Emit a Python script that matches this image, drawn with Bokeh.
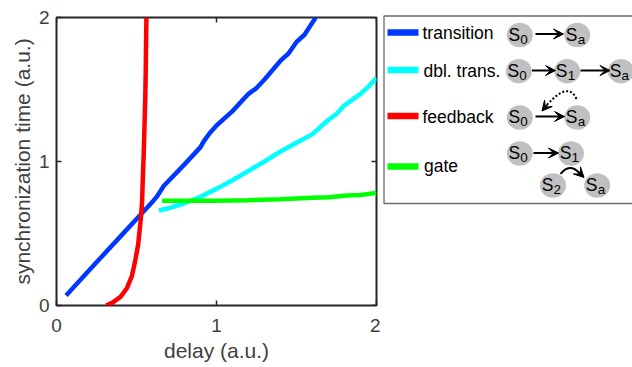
import math
from bokeh.plotting import figure
from bokeh.layouts import row
from bokeh.models import Range1d, FixedTicker, Arrow, VeeHead
from bokeh.core.properties import value
from bokeh.embed import file_html
from bokeh.resources import INLINE

# ---- data ----
blue_x = [0.06, 0.2, 0.4, 0.6, 0.63, 0.67, 0.8, 0.9, 0.92, 0.96, 1.0, 1.1, 1.2, 1.25, 1.3, 1.4, 1.45, 1.5, 1.55, 1.62]
blue_y = [0.07, 0.24, 0.48, 0.72, 0.76, 0.83, 0.98, 1.10, 1.14, 1.20, 1.25, 1.35, 1.47, 1.51, 1.57, 1.70, 1.75, 1.83, 1.88, 2.0]

cyan_x = [0.64, 0.7, 0.8, 0.9, 1.0, 1.1, 1.2, 1.3, 1.4, 1.5, 1.6, 1.7, 1.75, 1.8, 1.85, 1.9, 1.95, 2.0]
cyan_y = [0.66, 0.675, 0.71, 0.755, 0.81, 0.87, 0.935, 1.0, 1.07, 1.13, 1.19, 1.29, 1.33, 1.39, 1.43, 1.47, 1.52, 1.58]

red_x = [0.31, 0.35, 0.40, 0.44, 0.47, 0.49, 0.51, 0.525, 0.535, 0.54, 0.545, 0.55, 0.555, 0.558, 0.56, 0.562]
red_y = [0.0, 0.02, 0.06, 0.12, 0.20, 0.30, 0.42, 0.58, 0.72, 0.90, 1.05, 1.25, 1.45, 1.65, 1.85, 2.0]

green_x = [0.66, 0.8, 1.0, 1.2, 1.4, 1.5, 1.6, 1.7, 1.8, 1.85, 1.9, 2.0]
green_y = [0.727, 0.727, 0.728, 0.731, 0.738, 0.743, 0.748, 0.752, 0.762, 0.766, 0.768, 0.782]

x_ticks = [0, 1, 2]
y_ticks = [0, 1, 2]

legend_labels = ["transition", "dbl. trans.", "feedback", "gate"]
legend_colors = ["#0038ff", "#00ffff", "#ff0000", "#00ff00"]

FONT = "Liberation Sans"
AXC = "#404040"
FRAME = "#262626"

# ---- main plot ----
p = figure(width=380, height=367, x_range=Range1d(0, 2), y_range=Range1d(0, 2),
           output_backend="svg", toolbar_location=None,
           min_border_left=56, min_border_top=17, min_border_right=4, min_border_bottom=62,
           x_axis_label="delay (a.u.)", y_axis_label="synchronization time (a.u.)")
p.grid.visible = False
p.outline_line_color = FRAME
p.outline_line_width = 2

for ax in p.axis:
    ax.axis_line_color = None
    ax.major_tick_in = 5
    ax.major_tick_out = 0
    ax.minor_tick_line_color = None
    ax.major_tick_line_color = FRAME
    ax.major_tick_line_width = 1.5
    ax.major_label_text_font = FONT
    ax.major_label_text_font_size = "19px"
    ax.major_label_text_color = AXC
    ax.axis_label_text_font = FONT
    ax.axis_label_text_font_size = "21px"
    ax.axis_label_text_font_style = "normal"
    ax.axis_label_text_color = AXC

p.xaxis.ticker = FixedTicker(ticks=x_ticks)
p.yaxis.ticker = FixedTicker(ticks=y_ticks)
p.xaxis.major_label_standoff = 13
p.xaxis.axis_label_standoff = 4
p.yaxis.major_label_standoff = 7
p.yaxis.axis_label_standoff = 2

# inward ticks on the top and right edges (half of each dash is clipped by the frame)
p.scatter(x=x_ticks, y=[2] * len(x_ticks), marker="dash", size=10, angle=math.pi / 2,
          line_color=FRAME, line_width=1.5)
p.scatter(x=[2] * len(y_ticks), y=y_ticks, marker="dash", size=10,
          line_color=FRAME, line_width=1.5)

LW = 4.5
p.line(blue_x, blue_y, line_color=legend_colors[0], line_width=LW)
p.line(cyan_x, cyan_y, line_color=legend_colors[1], line_width=LW)
p.line(red_x, red_y, line_color=legend_colors[2], line_width=LW)
p.line(green_x, green_y, line_color=legend_colors[3], line_width=LW)
p.frame_align = False

# ---- legend panel (coordinates in pixels) ----
QW = 252
q = figure(width=QW, height=367, x_range=Range1d(0, QW), y_range=Range1d(367, 0),
           output_backend="svg", toolbar_location=None, min_border=0,
           min_border_right=0, x_axis_location=None, y_axis_location=None)
q.grid.visible = False
q.outline_line_color = None
q.border_fill_color = None
q.frame_align = False

# legend box: top, left and bottom edges (right edge lies beyond the window)
q.line([QW, 3.5, 3.5, QW], [15.5, 15.5, 203, 203], line_color="#6a6a6a", line_width=1.3)

bar_y = [32, 69.5, 115.5, 166]
for lab, col, by in zip(legend_labels, legend_colors, bar_y):
    q.line([7, 38], [by, by], line_color=col, line_width=6.5)
q.text(x=[42, 43, 42, 43.5], y=[32, 70, 116.5, 165.5], text=legend_labels,
       text_font=value(FONT), text_font_size="17.5px", text_color="black",
       text_baseline="middle", text_align="left")

states = [("0", 139.3, 34.5), ("a", 196.7, 34.5),
          ("0", 138.3, 70.7), ("1", 186.7, 70.7), ("a", 240.5, 70.7),
          ("0", 139.3, 117), ("a", 196.7, 117),
          ("0", 139.3, 153), ("1", 190.5, 153), ("2", 172.5, 185), ("a", 216.7, 185)]
sx = [s[1] for s in states]
sy = [s[2] for s in states]
q.ellipse(x=sx, y=sy, width=26, height=24.5, fill_color="#c0c0c0", line_color=None)
q.text(x=[x - 5.5 for x in sx], y=[y - 0.5 for y in sy], text=["S"] * len(states),
       text_font=value(FONT), text_font_size="17.5px", text_color="black",
       text_baseline="middle", text_align="center")
q.text(x=[x + 0.5 for x in sx], y=[y + 4 for y in sy], text=[s[0] for s in states],
       text_font=value(FONT), text_font_size="13.5px", text_color="black",
       text_baseline="middle", text_align="left")

def arrow(x0, y0, x1, y1):
    q.add_layout(Arrow(end=VeeHead(size=10, fill_color="black", line_color="black", line_width=1),
                       x_start=x0, y_start=y0, x_end=x1, y_end=y1,
                       line_color="black", line_width=2))

arrow(155, 33.5, 183, 33.5)
arrow(151.5, 70, 175, 70)
arrow(200, 70, 229.5, 70)
arrow(155, 116, 184, 116)
arrow(153, 152.5, 178, 152.5)

# dotted feedback curve
q.quadratic(x0=[196], y0=[98.5], x1=[166], y1=[105], cx=[188], cy=[80],
            line_color="black", line_width=2, line_dash="2 2")
arrow(166.5, 104.5, 161.5, 110.5)

# gate curve
q.quadratic(x0=[180], y0=[173.5], x1=[199], y1=[172.5], cx=[189], cy=[162],
            line_color="black", line_width=2)
arrow(198.5, 172, 203.5, 177)

layout = row(p, q)
open("out.html", "w").write(file_html(layout, INLINE))
